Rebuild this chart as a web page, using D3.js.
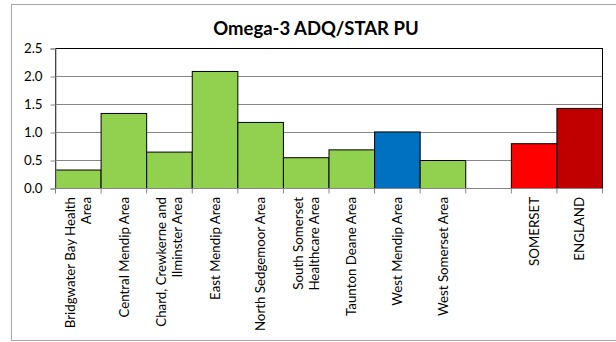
<!DOCTYPE html>
<html>
<head>
<meta charset="utf-8">
<script src="https://cdn.jsdelivr.net/npm/d3@7"></script>
<style>
  html, body { margin: 0; padding: 0; background: #fff; }
  svg { display: block; }
  text { font-family: Lato, "Open Sans", sans-serif; fill: #000; }
</style>
</head>
<body>
<svg id="chart" width="616" height="342"></svg>
<script>
// ---- data ----
const categories = [
  "Bridgwater Bay Health Area", "Central Mendip Area", "Chard, Crewkerne and Ilminster Area",
  "East Mendip Area", "North Sedgemoor Area", "South Somerset Healthcare Area",
  "Taunton Deane Area", "West Mendip Area", "West Somerset Area", "",
  "SOMERSET", "ENGLAND"
];
const labelLines = [
  ["Bridgwater Bay Health", "Area"], ["Central Mendip Area"], ["Chard, Crewkerne and", "Ilminster Area"],
  ["East Mendip Area"], ["North Sedgemoor Area"], ["South Somerset", "Healthcare Area"],
  ["Taunton Deane Area"], ["West Mendip Area"], ["West Somerset Area"], [],
  ["SOMERSET"], ["ENGLAND"]
];
const values = [0.33, 1.34, 0.65, 2.09, 1.18, 0.55, 0.69, 1.01, 0.50, null, 0.80, 1.43];
const groups = ["area", "area", "area", "area", "area", "area", "area", "selected", "area", "none", "county", "national"];
const yTicks = [0, 0.5, 1.0, 1.5, 2.0, 2.5];
const title = "Omega-3 ADQ/STAR PU";

// ---- styles / layout ----
const colour = d3.scaleOrdinal()
  .domain(["area", "selected", "county", "national"])
  .range(["#92D050", "#0070C0", "#FF0000", "#C00000"]);

const svg = d3.select("#chart");
const plot = { left: 55.5, right: 602.5, top: 48.5, bottom: 188.5 };

// chart area border
svg.append("rect")
  .attr("x", 11.5).attr("y", 4.5).attr("width", 640).attr("height", 336)
  .attr("fill", "#fff").attr("stroke", "#a6a6a6").attr("stroke-width", 1);

const x = d3.scaleBand().domain(d3.range(categories.length))
  .range([plot.left, plot.right]).padding(0);
const y = d3.scaleLinear().domain([0, 2.5]).range([plot.bottom, plot.top]);

// title
svg.append("text")
  .attr("x", 316).attr("y", 35)
  .attr("text-anchor", "middle")
  .attr("font-weight", "bold")
  .attr("font-size", "18.5px")
  .text(title);

// gridlines
svg.append("g")
  .selectAll("line").data(yTicks.filter(d => d > 0))
  .join("line")
  .attr("x1", plot.left).attr("x2", plot.right)
  .attr("y1", d => y(d)).attr("y2", d => y(d))
  .attr("stroke", "#868686").attr("stroke-width", 1);

// plot area border
svg.append("rect")
  .attr("x", plot.left).attr("y", plot.top)
  .attr("width", plot.right - plot.left).attr("height", plot.bottom - plot.top)
  .attr("fill", "none").attr("stroke", "#000").attr("stroke-width", 1);

// bars
const barData = categories.map((c, i) => ({ i, c, v: values[i], g: groups[i] }))
  .filter(d => d.v !== null);
svg.append("g")
  .selectAll("rect").data(barData)
  .join("rect")
  .attr("x", d => x(d.i))
  .attr("y", d => y(d.v))
  .attr("width", x.bandwidth())
  .attr("height", d => y(0) - y(d.v))
  .attr("fill", d => colour(d.g))
  .attr("stroke", "#000").attr("stroke-width", 1);

// y axis
const yAxis = d3.axisLeft(y).tickValues(yTicks).tickFormat(d3.format(".1f")).tickSize(5).tickPadding(8);
const gy = svg.append("g").attr("transform", `translate(${plot.left},0)`).call(yAxis);
gy.select(".domain").attr("stroke", "#868686");
gy.selectAll(".tick line").attr("stroke", "#868686");
gy.selectAll(".tick text").attr("font-family", "Lato, sans-serif").attr("font-size", "13.3px").attr("fill", "#000");

// x axis: ticks at category boundaries
const bounds = d3.range(categories.length + 1).map(i => i === categories.length ? plot.right : x(i));
const gx = svg.append("g");
gx.append("line")
  .attr("x1", plot.left).attr("x2", plot.right)
  .attr("y1", plot.bottom).attr("y2", plot.bottom)
  .attr("stroke", "#868686");
gx.selectAll("line.tk").data(bounds).join("line").attr("class", "tk")
  .attr("x1", d => d).attr("x2", d => d)
  .attr("y1", plot.bottom).attr("y2", plot.bottom + 5)
  .attr("stroke", "#868686");

// x labels (rotated)
const lineH = 16.3;
const lbl = svg.append("g").selectAll("text").data(labelLines.map((l, i) => ({ l, i })))
  .join("text")
  .attr("transform", d => `translate(${x(d.i) + x.bandwidth() / 2},197) rotate(-90)`)
  .attr("text-anchor", "end")
  .attr("font-size", "13.3px");
lbl.selectAll("tspan").data(d => d.l.map((t, k) => ({ t, k, n: d.l.length })))
  .join("tspan")
  .attr("x", 0)
  .attr("y", d => (d.k - (d.n - 1) / 2) * lineH)
  .attr("dy", "0.35em")
  .text(d => d.t);
</script>
</body>
</html>
